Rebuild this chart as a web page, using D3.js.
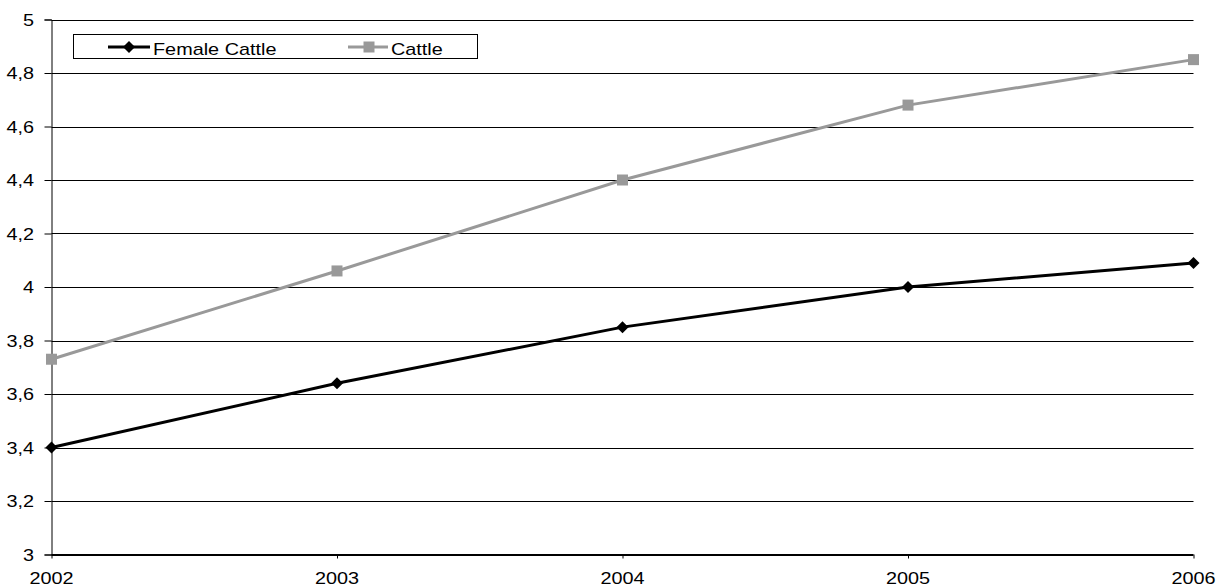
<!DOCTYPE html>
<html>
<head>
<meta charset="utf-8">
<script src="https://cdn.jsdelivr.net/npm/d3@7/dist/d3.min.js"></script>
<style>
  html, body { margin: 0; padding: 0; background: #fff; }
  svg { display: block; }
  text { font-family: "Liberation Sans", Arial, sans-serif; font-size: 16px; fill: #000; }
</style>
</head>
<body>
<svg id="chart" width="1217" height="588"></svg>
<script>
// Cattle numbers per year
const years = [2002, 2003, 2004, 2005, 2006];
const femaleCattle = [3.40, 3.64, 3.85, 4.00, 4.09];
const cattle = [3.73, 4.06, 4.40, 4.68, 4.85];
const yTicks = [3, 3.2, 3.4, 3.6, 3.8, 4, 4.2, 4.4, 4.6, 4.8, 5];
const seriesNames = ["Female Cattle", "Cattle"];

const svg = d3.select("#chart");
const plotLeft = 51.5, plotRight = 1193.5, plotTop = 19.5, plotBottom = 554.5;
const stretch = 1.24;   // wide lettering

const x = d3.scalePoint().domain(years).range([plotLeft, plotRight]);
const y = d3.scaleLinear().domain([3, 5]).range([plotBottom, plotTop]);

const fmt = v => String(+v.toFixed(1)).replace(".", ",");

function label(g, tx, ty, str, anchor) {
  g.append("text")
    .attr("transform", `translate(${tx},${ty}) scale(${stretch},1)`)
    .attr("text-anchor", anchor)
    .text(str);
}

// horizontal gridlines
svg.append("g").selectAll("line").data(yTicks).join("line")
  .attr("x1", plotLeft).attr("x2", plotRight)
  .attr("y1", d => Math.round(y(d)) + 0.5).attr("y2", d => Math.round(y(d)) + 0.5)
  .attr("stroke", "#000").attr("stroke-width", 1);

// y axis
const yAxis = svg.append("g").attr("transform", `translate(${plotLeft},0)`)
  .call(d3.axisLeft(y).tickValues(yTicks).tickSize(7).tickFormat(""));
yAxis.select(".domain").attr("stroke", "#000");
yAxis.selectAll(".tick line").attr("stroke", "#000");
const yl = svg.append("g");
yTicks.forEach(t => label(yl, 34, y(t) + 6, fmt(t), "end"));

// x axis
const xAxis = svg.append("g").attr("transform", `translate(0,${plotBottom})`)
  .call(d3.axisBottom(x).tickSize(4).tickFormat(""));
xAxis.select(".domain").attr("stroke", "#000").attr("d", `M${plotLeft},0H${plotRight}`);
xAxis.selectAll(".tick line").attr("stroke", "#000");
const xl = svg.append("g");
years.forEach(t => label(xl, x(t), 584, String(t), "middle"));

// series
const line = d3.line().x((d, i) => x(years[i])).y(d => y(d));

svg.append("path").datum(cattle).attr("d", line)
  .attr("fill", "none").attr("stroke", "#999999").attr("stroke-width", 3);
svg.append("g").selectAll("rect").data(cattle).join("rect")
  .attr("x", (d, i) => x(years[i]) - 5.5).attr("y", d => y(d) - 5.5)
  .attr("width", 11).attr("height", 11).attr("fill", "#999999");

svg.append("path").datum(femaleCattle).attr("d", line)
  .attr("fill", "none").attr("stroke", "#000").attr("stroke-width", 3);
const diamond = "M0,-6L6,0L0,6L-6,0Z";
svg.append("g").selectAll("path").data(femaleCattle).join("path")
  .attr("transform", (d, i) => `translate(${x(years[i])},${y(d)})`)
  .attr("d", diamond).attr("fill", "#000");

// legend
const lg = svg.append("g");
lg.append("rect").attr("x", 73.5).attr("y", 34.5).attr("width", 404).attr("height", 24)
  .attr("fill", "#fff").attr("stroke", "#000").attr("stroke-width", 1);
lg.append("line").attr("x1", 108).attr("x2", 150).attr("y1", 47).attr("y2", 47)
  .attr("stroke", "#000").attr("stroke-width", 3);
lg.append("path").attr("transform", "translate(129,47)").attr("d", diamond).attr("fill", "#000");
label(lg, 153, 55, seriesNames[0], "start");
lg.append("line").attr("x1", 348).attr("x2", 388).attr("y1", 47).attr("y2", 47)
  .attr("stroke", "#999999").attr("stroke-width", 3);
lg.append("rect").attr("x", 363.5).attr("y", 41.5).attr("width", 11).attr("height", 11).attr("fill", "#999999");
label(lg, 391, 55, seriesNames[1], "start");
</script>
</body>
</html>
